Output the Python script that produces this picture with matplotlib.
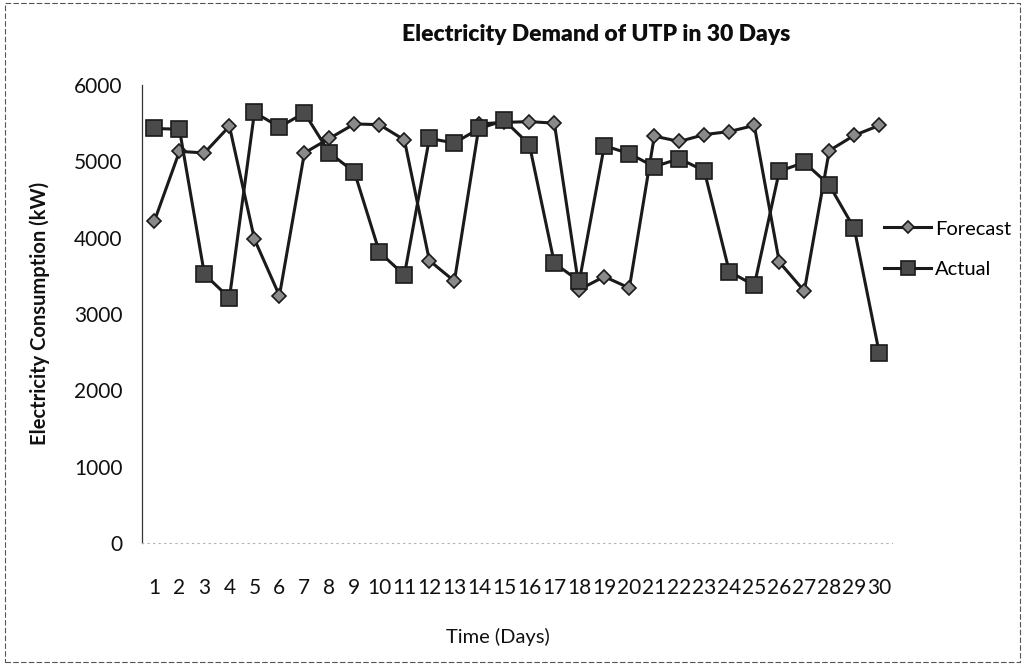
import matplotlib.pyplot as plt
from matplotlib.patches import Rectangle

# daily demand, kW
days = list(range(1, 31))
forecast = [4220, 5130, 5110, 5460, 3980, 3240, 5110, 5300, 5490, 5480,
            5280, 3700, 3430, 5490, 5510, 5520, 5500, 3320, 3490, 3340,
            5330, 5260, 5350, 5390, 5470, 3680, 3300, 5140, 5340, 5470]
actual = [5430, 5420, 3520, 3210, 5640, 5450, 5635, 5110, 4860, 3810,
          3510, 5300, 5240, 5430, 5535, 5220, 3665, 3430, 5205, 5100,
          4930, 5035, 4875, 3555, 3375, 4870, 4985, 4690, 4120, 2490]
day_labels = [str(d) for d in days]
y_ticks = [0, 1000, 2000, 3000, 4000, 5000, 6000]

plt.rcParams["font.family"] = ["Lato", "DejaVu Sans"]

fig = plt.figure(figsize=(10.25, 6.66), dpi=100)
ax = fig.add_axes([0.1385, 0.1847, 0.7315, 0.6877])

line_col = "#1a1a1a"
ax.plot(days, forecast, color=line_col, lw=2.2, marker="D", markersize=7.5,
        markerfacecolor="#8a8a8a", markeredgecolor="#1a1a1a", markeredgewidth=1.2,
        label="Forecast", zorder=3)
ax.plot(days, actual, color=line_col, lw=2.2, marker="s", markersize=11.5,
        markerfacecolor="#4a4a4a", markeredgecolor="#1a1a1a", markeredgewidth=1.2,
        label="Actual", zorder=4)

ax.set_xlim(0.5, 30.5)
ax.set_ylim(0, 6000)
ax.set_xticks(days)
ax.set_xticklabels(day_labels)
ax.set_yticks(y_ticks)
ax.tick_params(axis="both", length=0, labelsize=15, colors="#111111")
ax.tick_params(axis="x", pad=25)
ax.tick_params(axis="y", pad=14)

for side in ("top", "right"):
    ax.spines[side].set_visible(False)
ax.spines["left"].set_color("#333333")
ax.spines["left"].set_linewidth(0.9)
ax.spines["left"].set_linestyle((0, (6, 1)))
ax.spines["bottom"].set_color("#b0b0b0")
ax.spines["bottom"].set_linewidth(0.8)
ax.spines["bottom"].set_linestyle((0, (1, 4)))

fig.text(0.582, 0.948, "Electricity Demand of UTP in 30 Days", ha="center",
         va="center", fontsize=16.5, fontweight="heavy", color="#0d0d0d")
fig.text(0.486, 0.044, "Time (Days)", ha="center", va="center", fontsize=14.5,
         color="#111111")
fig.text(0.039, 0.53, "Electricity Consumption (kW)", ha="center", va="center",
         rotation=90, fontsize=14.5, fontweight="bold", color="#111111")

fig.legend(loc="center left", bbox_to_anchor=(0.853, 0.626), frameon=False,
           fontsize=14.5, handlelength=2.3, handletextpad=0.2, labelspacing=1.15,
           borderpad=0, markerscale=0.85)

# scanned page frame
fig.patches.append(Rectangle((0.005, 0.006), 0.99, 0.989, transform=fig.transFigure,
                             fill=False, edgecolor="#555555", lw=0.8,
                             linestyle=(0, (5, 2))))

fig.savefig("out.png", dpi=100)
plt.close(fig)
